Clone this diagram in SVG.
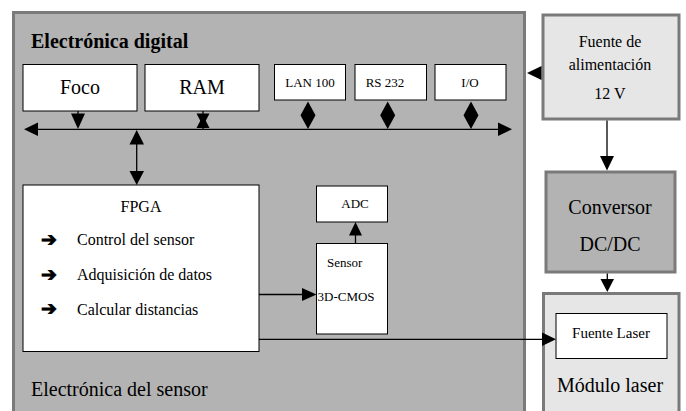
<svg xmlns="http://www.w3.org/2000/svg" width="686" height="411" viewBox="0 0 686 411">
<defs>
<style>
.outer{stroke:#7a7a7a;stroke-width:3}
.wb{fill:#fff;stroke:#000;stroke-width:1}
.ln{stroke:#000;stroke-width:1.3;fill:none}
.ah{fill:#000}
.bul{font-family:'DejaVu Sans',sans-serif;font-size:19px;font-weight:bold;stroke:#000;stroke-width:0.9}
</style>
</defs>
<rect width="686" height="411" fill="#fff"/>
<g font-family="Liberation Serif, Times New Roman, serif" fill="#000">
<g id="electronica">
<rect class="outer" x="13.5" y="12.5" width="511" height="410" fill="#b3b3b3"/>
<text x="31" y="48" font-size="20" font-weight="bold">Electrónica digital</text>
<text x="31" y="396" font-size="20">Electrónica del sensor</text>
</g>
<g id="fuente-alim">
<rect class="outer" x="543" y="15" width="136" height="104" fill="#e6e6e6"/>
<text x="610" y="47" font-size="16" text-anchor="middle">Fuente de</text>
<text x="610" y="70" font-size="16" text-anchor="middle">alimentación</text>
<text x="610" y="99" font-size="16" text-anchor="middle">12 V</text>
</g>
<g id="conversor">
<rect class="outer" x="546" y="172" width="129" height="100" fill="#b3b3b3"/>
<text x="610" y="214" font-size="20" text-anchor="middle">Conversor</text>
<text x="610" y="251" font-size="20" text-anchor="middle">DC/DC</text>
</g>
<g id="modulo">
<rect class="outer" x="543.5" y="293.5" width="135.5" height="130" fill="#e6e6e6"/>
<text x="610" y="392" font-size="20" text-anchor="middle">Módulo laser</text>
</g>
<g id="fuente-laser">
<rect class="wb" x="556" y="313.5" width="111" height="45"/>
<text x="611" y="338" font-size="15" text-anchor="middle">Fuente Laser</text>
</g>
<g id="foco">
<rect class="wb" x="23" y="64.5" width="114" height="46.5"/>
<text x="80" y="94" font-size="20" text-anchor="middle">Foco</text>
</g>
<g id="ram">
<rect class="wb" x="145" y="64.5" width="114" height="46.5"/>
<text x="202" y="94" font-size="20" text-anchor="middle">RAM</text>
</g>
<g id="lan">
<rect class="wb" x="274.5" y="64.5" width="71" height="35.5"/>
<text x="310" y="87" font-size="13" text-anchor="middle">LAN 100</text>
</g>
<g id="rs232">
<rect class="wb" x="355" y="64.5" width="71.5" height="35.5"/>
<text x="385" y="87" font-size="13" text-anchor="middle">RS 232</text>
</g>
<g id="io">
<rect class="wb" x="435" y="64.5" width="71" height="35.5"/>
<text x="470" y="87" font-size="13" text-anchor="middle">I/O</text>
</g>
<g id="fpga">
<rect class="wb" x="23" y="185" width="236" height="166.5"/>
<text x="141" y="212" font-size="16" text-anchor="middle">FPGA</text>
<text class="bul" x="41" y="246">➔</text>
<text class="bul" x="41" y="281">➔</text>
<text class="bul" x="41" y="315">➔</text>
<text x="77" y="245" font-size="16">Control del sensor</text>
<text x="77" y="280" font-size="16">Adquisición de datos</text>
<text x="77" y="315" font-size="16">Calcular distancias</text>
</g>
<g id="adc">
<rect class="wb" x="316.5" y="186" width="71" height="36"/>
<text x="355" y="208" font-size="13" text-anchor="middle">ADC</text>
</g>
<g id="sensor">
<rect class="wb" x="316.5" y="243.5" width="71" height="90.5"/>
<text x="327" y="267" font-size="13">Sensor</text>
<text x="317.5" y="301" font-size="13">3D-CMOS</text>
</g>
</g>
<g id="connectors">
<line class="ln" x1="37" y1="129.3" x2="499" y2="129.3"/>
<polygon class="ah" points="24,129.3 38,122.5 38,136"/>
<polygon class="ah" points="512,129.3 498,122.5 498,136"/>
<line class="ln" x1="78" y1="111" x2="78" y2="114"/>
<polygon class="ah" points="71,113.5 85,113.5 78,129"/>
<line class="ln" x1="203" y1="111" x2="203" y2="129"/>
<polygon class="ah" points="196.5,113.5 209.5,113.5 203,126"/>
<polygon class="ah" points="196.5,128 209.5,128 203,115.5"/>
<polygon class="ah" points="308,101.5 315.5,115.3 308,129 300.5,115.3"/>
<polygon class="ah" points="387.7,101.5 395.2,115.3 387.7,129 380.2,115.3"/>
<polygon class="ah" points="471,101.5 478.5,115.3 471,129 463.5,115.3"/>
<line class="ln" x1="136.7" y1="140" x2="136.7" y2="174"/>
<polygon class="ah" points="136.7,130 129.5,144.5 144,144.5"/>
<polygon class="ah" points="136.7,185 129.5,171 144,171"/>
<line class="ln" x1="259" y1="294.5" x2="304" y2="294.5"/>
<polygon class="ah" points="316.5,294.5 302,288 302,301"/>
<line class="ln" x1="355.5" y1="243.5" x2="355.5" y2="232"/>
<polygon class="ah" points="355.5,222 349,235.5 362,235.5"/>
<line class="ln" x1="259" y1="339.3" x2="544" y2="339.3"/>
<polygon class="ah" points="556,339.3 542,332.5 542,346"/>
<polygon class="ah" points="527,73 541.5,66 541.5,80"/>
<line class="ln" x1="607" y1="120.5" x2="607" y2="158"/>
<polygon class="ah" points="607,170.5 600,156 614,156"/>
<line class="ln" x1="607.3" y1="273.5" x2="607.3" y2="282"/>
<polygon class="ah" points="607.3,292 600.5,279 614,279"/>
</g>
</svg>
